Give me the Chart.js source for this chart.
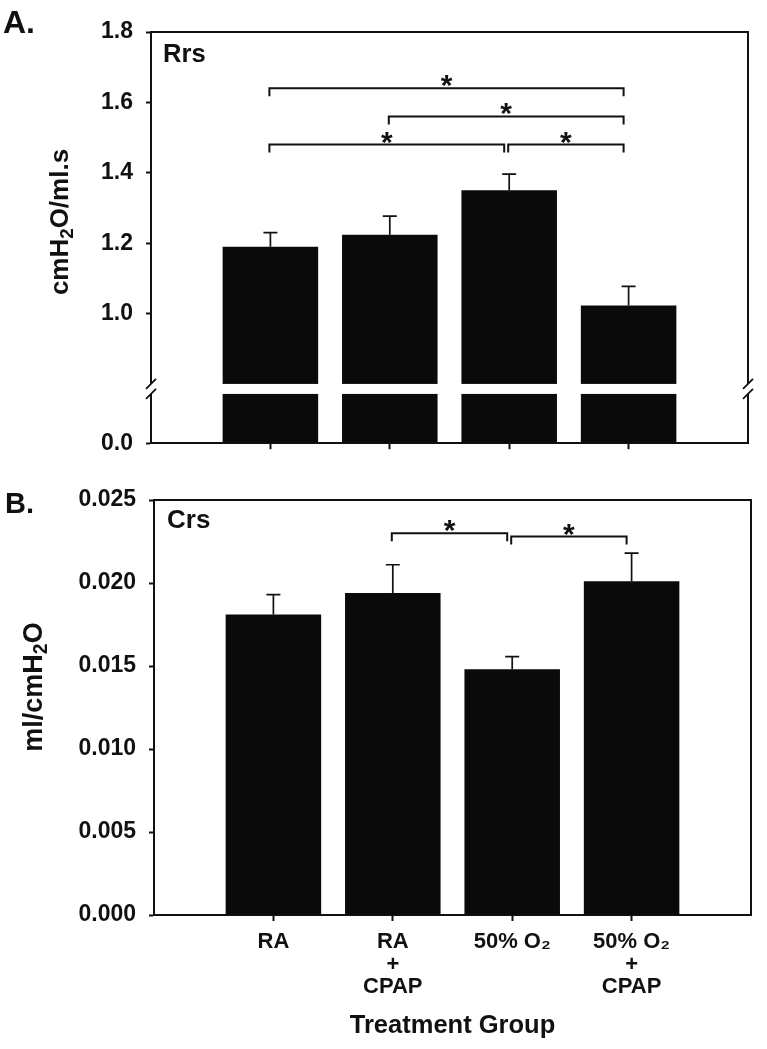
<!DOCTYPE html>
<html>
<head>
<meta charset="utf-8">
<script src="https://cdn.jsdelivr.net/npm/chart.js@4.4.1/dist/chart.umd.min.js"></script>
<style>
  body { margin: 0; background: #fff; }
  canvas { display: block; }
</style>
</head>
<body>
<canvas id="rrsChart" width="767" height="470"></canvas>
<canvas id="crsChart" width="767" height="579"></canvas>
<script>
// treatment groups (arrays are drawn as multi-line tick labels)
const groups = [['RA'], ['RA', '+', 'CPAP'], ['50% O₂'], ['50% O₂', '+', 'CPAP']];
const groupPos = [1, 2, 3, 4];

// A. Rrs, cmH2O/ml.s
const rrsMean = [1.19, 1.224, 1.35, 1.023];
const rrsSem = [0.04, 0.053, 0.046, 0.054];
const rrsTicks = [0.0, 1.0, 1.2, 1.4, 1.6, 1.8];
// [from group, to group, bracket height]
const rrsBrackets = [[1, 4, 1.64], [2, 4, 1.56], [1, 3, 1.48], [3, 4, 1.48]];

// B. Crs, ml/cmH2O
const crsMean = [0.0181, 0.0194, 0.0148, 0.0201];
const crsSem = [0.0012, 0.0017, 0.00076, 0.0017];
const crsTicks = [0, 0.005, 0.010, 0.015, 0.020, 0.025];
const crsBrackets = [[2, 3, 0.0230], [3, 4, 0.0228]];

// axis break on panel A (values between breakLow and breakHigh are squeezed into breakGap px)
const breakLow = 0.14;
const breakHigh = 0.8;
const breakGap = 10;

const ink = '#111';
const font = "'Liberation Sans', Arial, sans-serif";
Chart.defaults.font.family = font;
Chart.defaults.font.weight = 'bold';
Chart.defaults.color = ink;

// linear scale with a break in it
class BrokenLinearScale extends Chart.LinearScale {
    unitPx() {
        return (this.height - breakGap) / ((breakLow - this.min) + (this.max - breakHigh));
    }
    getPixelForValue(value) {
        if (value === null || value === undefined || isNaN(value)) return NaN;
        const u = this.unitPx();
        const lowTop = this.bottom - (breakLow - this.min) * u;
        if (value <= breakLow) return this.bottom - (value - this.min) * u;
        if (value < breakHigh) return lowTop - (value - breakLow) / (breakHigh - breakLow) * breakGap;
        return lowTop - breakGap - (value - breakHigh) * u;
    }
    getValueForPixel(pixel) {
        const u = this.unitPx();
        const lowTop = this.bottom - (breakLow - this.min) * u;
        if (pixel >= lowTop) return this.min + (this.bottom - pixel) / u;
        if (pixel > lowTop - breakGap) return breakLow + (lowTop - pixel) / breakGap * (breakHigh - breakLow);
        return breakHigh + (lowTop - breakGap - pixel) / u;
    }
}
BrokenLinearScale.id = 'brokenLinear';
BrokenLinearScale.defaults = Chart.LinearScale.defaults;
Chart.register(BrokenLinearScale);

function drawYTitle(ctx, parts, bx, cy, size) {
    ctx.save();
    ctx.translate(bx, cy);
    ctx.rotate(-Math.PI / 2);
    const fonts = parts.map(([, sub]) => `bold ${sub ? size * 0.72 : size}px ${font}`);
    const widths = parts.map(([t], i) => { ctx.font = fonts[i]; return ctx.measureText(t).width; });
    const total = widths.reduce((s, w) => s + w, 0);
    let cx = -total / 2;
    ctx.fillStyle = ink;
    ctx.textAlign = 'left';
    ctx.textBaseline = 'alphabetic';
    parts.forEach(([t, sub], i) => {
        ctx.font = fonts[i];
        ctx.fillText(t, cx, sub ? size * 0.2 : 0);
        cx += widths[i];
    });
    ctx.restore();
}

function drawStar(ctx, cx, cy) {
    ctx.font = `bold 30px ${font}`;
    ctx.textAlign = 'center';
    ctx.textBaseline = 'alphabetic';
    const m = ctx.measureText('*');
    ctx.fillText('*', cx, cy + (m.actualBoundingBoxAscent - m.actualBoundingBoxDescent) / 2);
}

// error bars, frame, brackets and labels
function decorPlugin(cfg) {
    return {
        id: 'decor_' + cfg.name,
        afterDatasetsDraw(chart) {
            const { ctx, scales: { x, y } } = chart;
            ctx.save();
            ctx.strokeStyle = ink;
            ctx.lineWidth = 1.7;
            cfg.mean.forEach((m, i) => {
                const px = x.getPixelForValue(groupPos[i]);
                const y0 = y.getPixelForValue(m);
                const y1 = y.getPixelForValue(m + cfg.sem[i]);
                ctx.beginPath();
                ctx.moveTo(px, y0);
                ctx.lineTo(px, y1);
                ctx.moveTo(px - 7, y1);
                ctx.lineTo(px + 7, y1);
                ctx.stroke();
            });
            ctx.restore();
        },
        afterDraw(chart) {
            const { ctx, chartArea: a, scales: { x, y } } = chart;
            ctx.save();
            ctx.strokeStyle = ink;
            ctx.fillStyle = ink;
            ctx.lineWidth = 2;
            ctx.beginPath();
            ctx.moveTo(a.left - 1, a.top);
            ctx.lineTo(a.right, a.top);
            ctx.lineTo(a.right, a.bottom);
            ctx.stroke();

            if (cfg.broken) {
                const yb = y.getPixelForValue(breakLow);
                const yt = y.getPixelForValue(breakHigh);
                ctx.fillStyle = '#fff';
                ctx.fillRect(a.left - 8, yt, a.right - a.left + 16, yb - yt);
                ctx.fillStyle = ink;
                ctx.lineWidth = 1.8;
                [a.left, a.right].forEach(ax => [yt, yb].forEach(yy => {
                    ctx.beginPath();
                    ctx.moveTo(ax - 5, yy + 5);
                    ctx.lineTo(ax + 5, yy - 5);
                    ctx.stroke();
                }));
            }

            ctx.lineWidth = 2;
            cfg.brackets.forEach(([f, t, lvl]) => {
                const x1 = x.getPixelForValue(f) - 1;
                const x2 = x.getPixelForValue(t) - 5;
                const yy = y.getPixelForValue(lvl);
                ctx.beginPath();
                ctx.moveTo(x1, yy + 8);
                ctx.lineTo(x1, yy);
                ctx.lineTo(x2, yy);
                ctx.lineTo(x2, yy + 8);
                ctx.stroke();
                drawStar(ctx, (x1 + x2) / 2, yy - 7);
            });

            ctx.textAlign = 'left';
            ctx.textBaseline = 'alphabetic';
            ctx.font = `bold ${cfg.panel[3]}px ${font}`;
            ctx.fillText(cfg.panel[0], cfg.panel[1], cfg.panel[2]);
            ctx.font = `bold ${cfg.inner[3]}px ${font}`;
            ctx.fillText(cfg.inner[0], cfg.inner[1], cfg.inner[2]);
            drawYTitle(ctx, cfg.yTitle, cfg.yTitlePos[0], cfg.yTitlePos[1], cfg.yTitlePos[2]);
            ctx.restore();
        }
    };
}

function xAxis(showLabels, height) {
    return {
        type: 'linear',
        min: 0,
        max: 5,
        offset: false,
        afterBuildTicks: s => { s.ticks = groupPos.map(v => ({ value: v })); },
        afterFit: s => { s.height = height; },
        ticks: {
            display: showLabels,
            autoSkip: false,
            maxRotation: 0,
            padding: 10,
            font: { size: 22, lineHeight: 1.02 },
            callback: v => groups[groupPos.indexOf(v)]
        },
        grid: { drawOnChartArea: false, offset: false, tickLength: 6, tickWidth: 2, tickColor: ink },
        border: { color: ink, width: 2 }
    };
}

function barData(mean) {
    return {
        datasets: [{
            data: mean.map((v, i) => ({ x: groupPos[i], y: v })),
            backgroundColor: '#0a0a0a',
            borderWidth: 0,
            barPercentage: 0.8,
            categoryPercentage: 1.0
        }]
    };
}

new Chart(document.getElementById('rrsChart'), {
    type: 'bar',
    data: barData(rrsMean),
    options: {
        responsive: false,
        animation: false,
        layout: { padding: { top: 32, right: 19, bottom: 0, left: 0 } },
        plugins: { legend: { display: false }, tooltip: { enabled: false } },
        scales: {
            x: xAxis(false, 20),
            y: {
                type: 'brokenLinear',
                min: 0,
                max: 1.8,
                afterBuildTicks: s => { s.ticks = rrsTicks.map(v => ({ value: v })); },
                afterFit: s => { s.width = 151; },
                ticks: { padding: 13, font: { size: 23 }, callback: v => v.toFixed(1) },
                grid: { drawOnChartArea: false, tickLength: 5, tickWidth: 2, tickColor: ink },
                border: { color: ink, width: 2 }
            }
        }
    },
    plugins: [decorPlugin({
        name: 'rrs', broken: true,
        mean: rrsMean, sem: rrsSem, brackets: rrsBrackets,
        panel: ['A.', 3, 33, 32], inner: ['Rrs', 163, 62, 25.6],
        yTitle: [['cmH', false], ['2', true], ['O/ml.s', false]],
        yTitlePos: [68, 222, 26]
    })]
});

new Chart(document.getElementById('crsChart'), {
    type: 'bar',
    data: barData(crsMean),
    options: {
        responsive: false,
        animation: false,
        layout: { padding: { top: 30, right: 16, bottom: 0, left: 0 } },
        plugins: { legend: { display: false }, tooltip: { enabled: false } },
        scales: {
            x: Object.assign(xAxis(true, 134), {
                title: {
                    display: true,
                    text: 'Treatment Group',
                    font: { size: 25.5, weight: 'bold' },
                    color: ink,
                    padding: { top: 0, bottom: 8 }
                }
            }),
            y: {
                type: 'linear',
                min: 0,
                max: 0.025,
                afterBuildTicks: s => { s.ticks = crsTicks.map(v => ({ value: v })); },
                afterFit: s => { s.width = 154; },
                ticks: { padding: 13, font: { size: 23 }, callback: v => v.toFixed(3) },
                grid: { drawOnChartArea: false, tickLength: 5, tickWidth: 2, tickColor: ink },
                border: { color: ink, width: 2 }
            }
        }
    },
    plugins: [decorPlugin({
        name: 'crs', broken: false,
        mean: crsMean, sem: crsSem, brackets: crsBrackets,
        panel: ['B.', 5, 43, 29], inner: ['Crs', 167, 58, 26],
        yTitle: [['ml/cmH', false], ['2', true], ['O', false]],
        yTitlePos: [42, 217, 27]
    })]
});
</script>
</body>
</html>
